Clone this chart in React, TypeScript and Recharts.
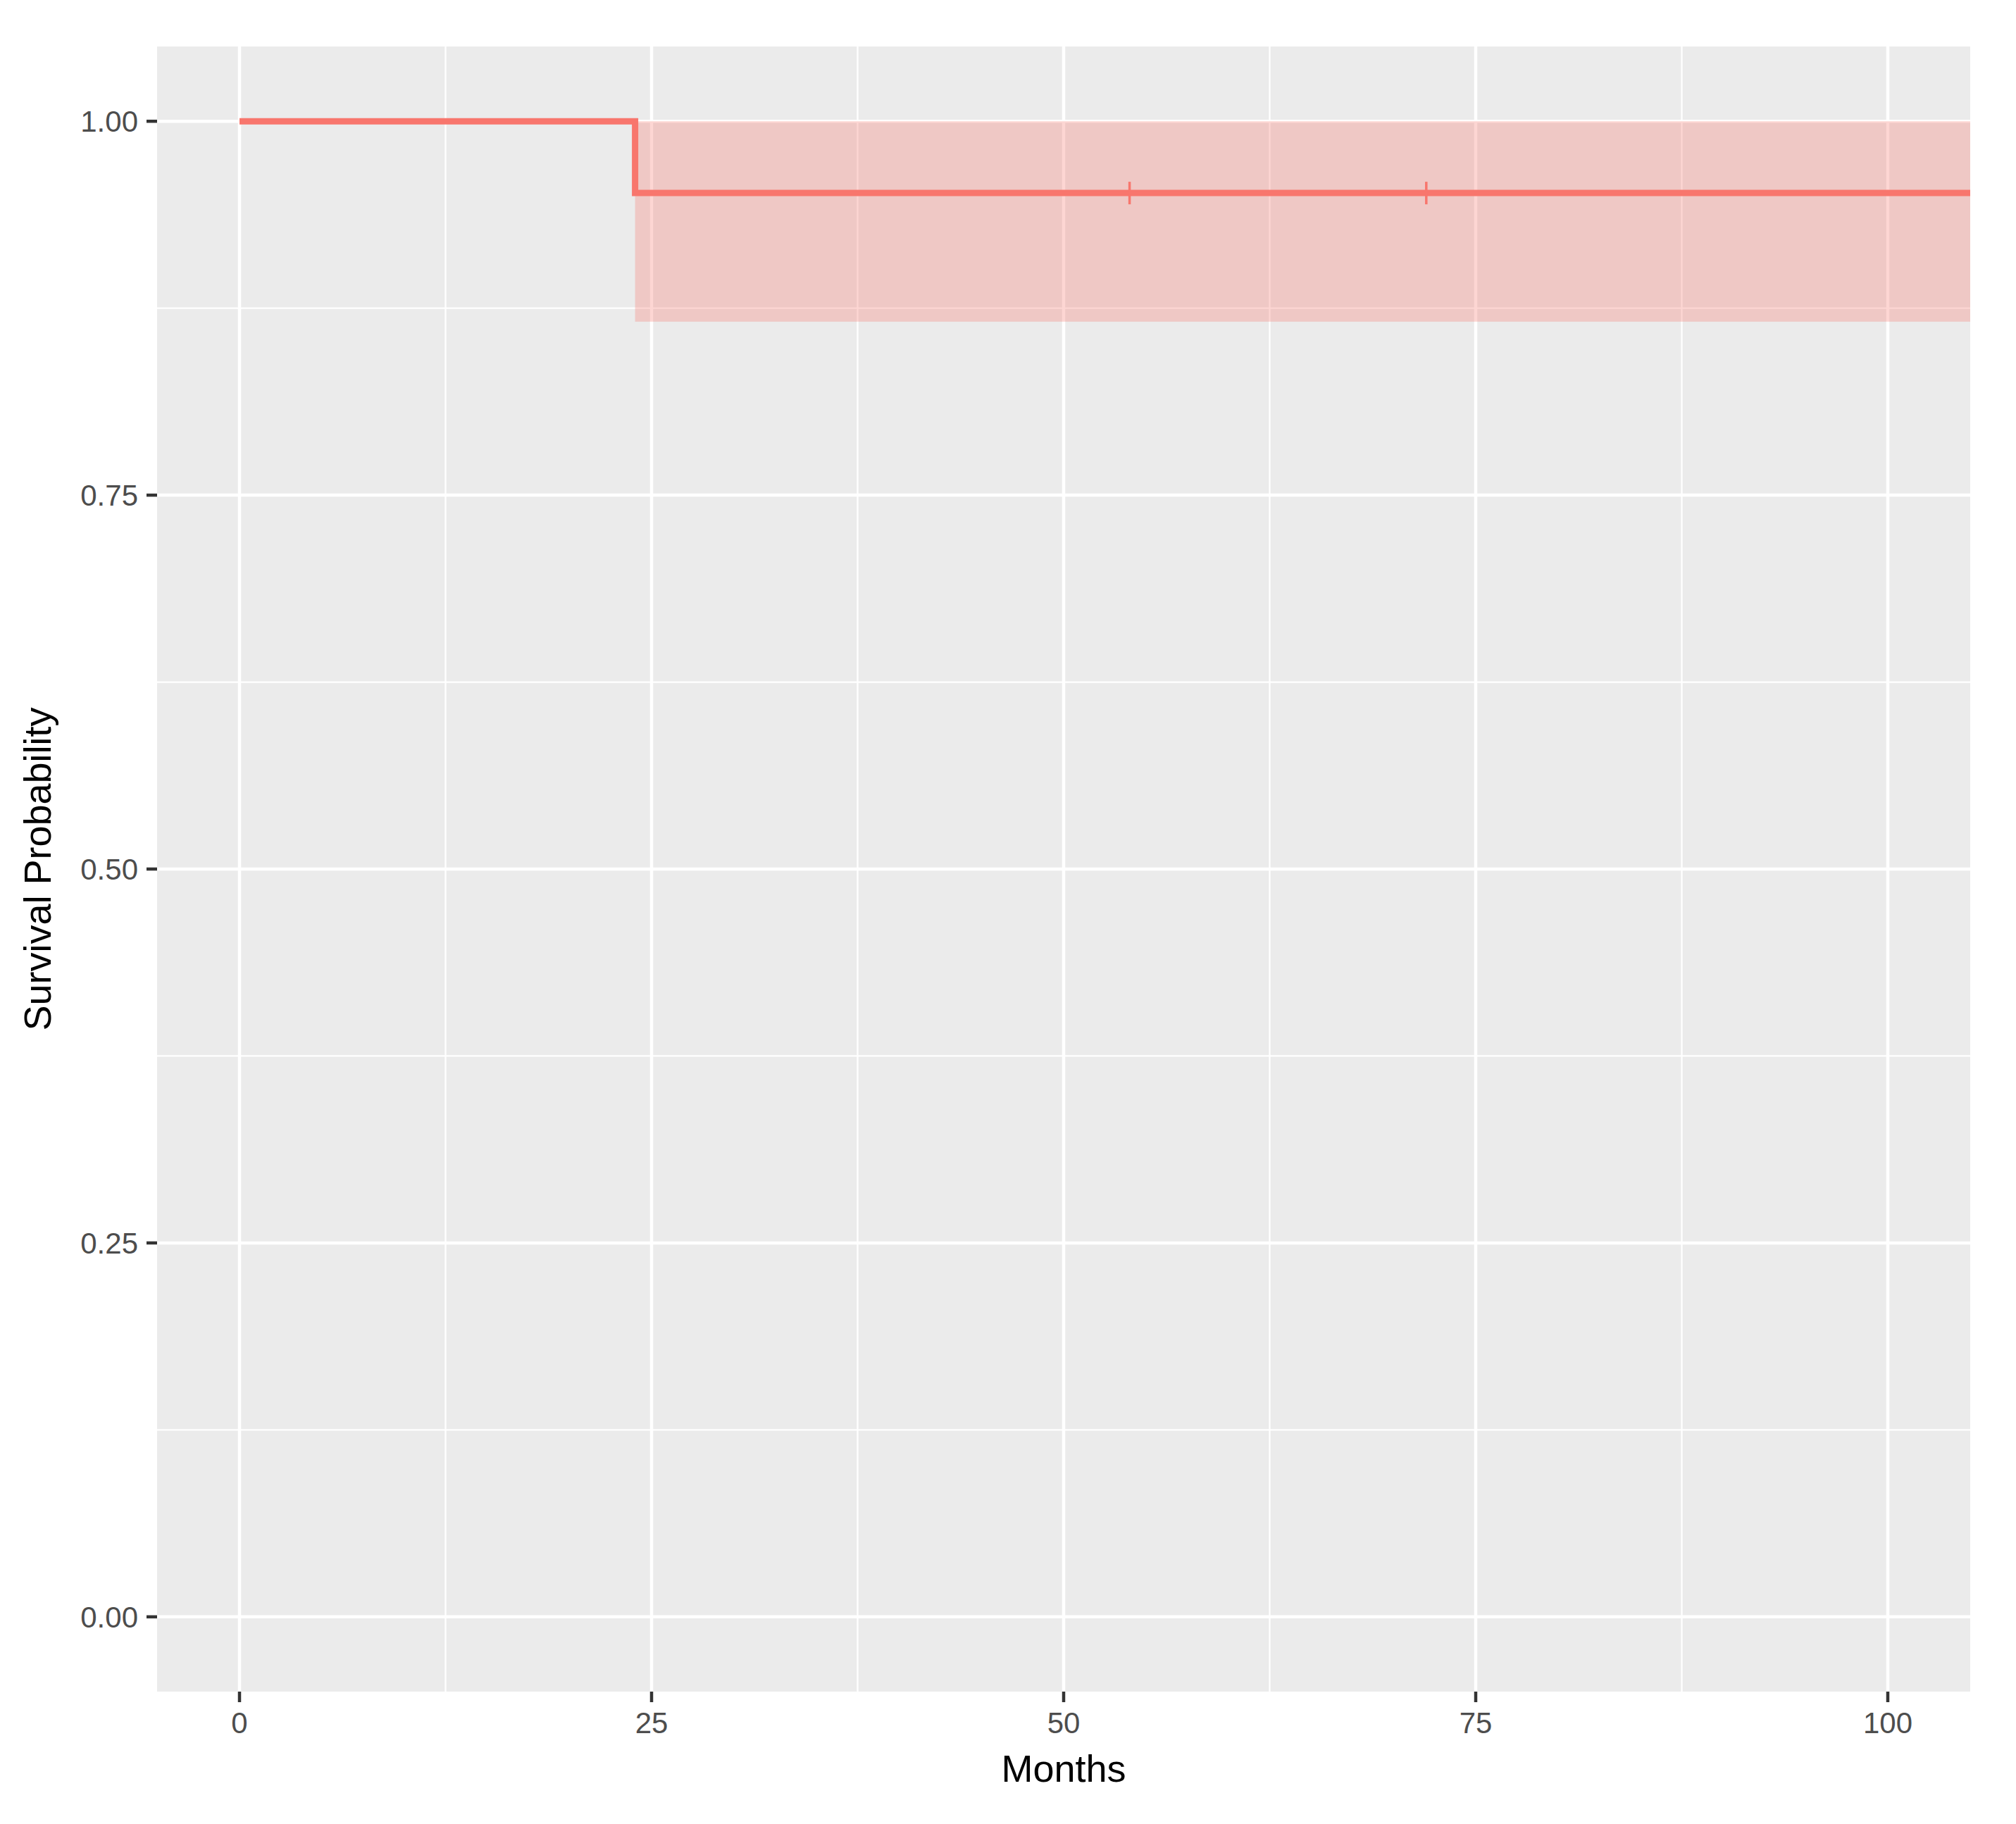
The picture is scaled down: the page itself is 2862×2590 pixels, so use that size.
import React from 'react';
import { ComposedChart, Line, Area, Scatter, XAxis, YAxis, CartesianGrid, Label } from 'recharts';

// Kaplan-Meier estimate (months)
const times = [0, 24, 54, 72, 108];
const survival = [1, 0.952, 0.952, 0.952, 0.952];
const lowerCI = [1, 0.866, 0.866, 0.866, 0.866];
const upperCI = [1, 1, 1, 1, 1];

// censoring marks
const censorTimes = [54, 72];
const censorSurvival = [0.952, 0.952];

// axes
const xTicks = [0, 25, 50, 75, 100];
const yTicks = [0, 0.25, 0.5, 0.75, 1];
const xMinor = [12.5, 37.5, 62.5, 87.5];
const yMinor = [0.125, 0.375, 0.625, 0.875];

const kmData = times.map((t, i) => ({ t, s: survival[i], ci: [lowerCI[i], upperCI[i]] }));
const censorData = censorTimes.map((t, i) => ({ t, c: censorSurvival[i] }));

const RED = '#F8766D';
const FONT = '"Liberation Sans", Arial, Helvetica, sans-serif';

const CensorMark = (props: any) => {
  const { cx, cy } = props;
  if (cx == null || cy == null) return null;
  return <line x1={cx} x2={cx} y1={cy - 16} y2={cy + 16} stroke={RED} strokeWidth={3.5} />;
};

const XTitle = (props: any) => {
  const vb = props.viewBox || {};
  return (
    <text x={vb.x + vb.width / 2} y={2522} textAnchor="middle" fontFamily={FONT} fontSize={54} fill="#000">
      Months
    </text>
  );
};

const YTitle = (props: any) => {
  const vb = props.viewBox || {};
  const cy = vb.y + vb.height / 2;
  const x = 64;
  return (
    <text x={x} y={cy} transform={`rotate(-90, ${x}, ${cy})`} textAnchor="middle" fontFamily={FONT} fontSize={54} fill="#000">
      Survival Probability
    </text>
  );
};

export default function App() {
  return (
    <ComposedChart
      width={2846}
      height={2574}
      data={kmData}
      margin={{ top: 58, right: 57, bottom: 0, left: 0 }}
      style={{ fontFamily: FONT }}
    >
      <CartesianGrid
        fill="#EBEBEB"
        stroke="#FFFFFF"
        strokeWidth={2.3}
        horizontalValues={yMinor}
        verticalValues={xMinor}
      />
      <CartesianGrid
        fill="none"
        stroke="#FFFFFF"
        strokeWidth={4.5}
        horizontalValues={yTicks}
        verticalValues={xTicks}
      />
      <XAxis
        dataKey="t"
        type="number"
        domain={[-5, 105]}
        allowDataOverflow
        ticks={xTicks}
        height={180}
        axisLine={false}
        tickSize={15}
        tickMargin={14}
        tickLine={{ stroke: '#333333', strokeWidth: 4.5 }}
        tick={{ fill: '#4D4D4D', fontSize: 42, fontFamily: FONT }}
      >
        <Label content={<XTitle />} position="insideBottom" />
      </XAxis>
      <YAxis
        type="number"
        domain={[-0.05, 1.05]}
        allowDataOverflow
        ticks={yTicks}
        width={215}
        axisLine={false}
        tickSize={15}
        tickMargin={12}
        tickLine={{ stroke: '#333333', strokeWidth: 4.5 }}
        tick={{ fill: '#4D4D4D', fontSize: 42, fontFamily: FONT }}
        tickFormatter={(v: number) => v.toFixed(2)}
      >
        <Label content={<YTitle />} position="insideLeft" />
      </YAxis>
      <Area
        dataKey="ci"
        type="stepAfter"
        stroke="none"
        fill={RED}
        fillOpacity={0.3}
        isAnimationActive={false}
        activeDot={false}
        dot={false}
      />
      <Line
        dataKey="s"
        type="stepAfter"
        stroke={RED}
        strokeWidth={9}
        dot={false}
        activeDot={false}
        isAnimationActive={false}
      />
      <Scatter data={censorData} dataKey="c" shape={<CensorMark />} isAnimationActive={false} />
    </ComposedChart>
  );
}
